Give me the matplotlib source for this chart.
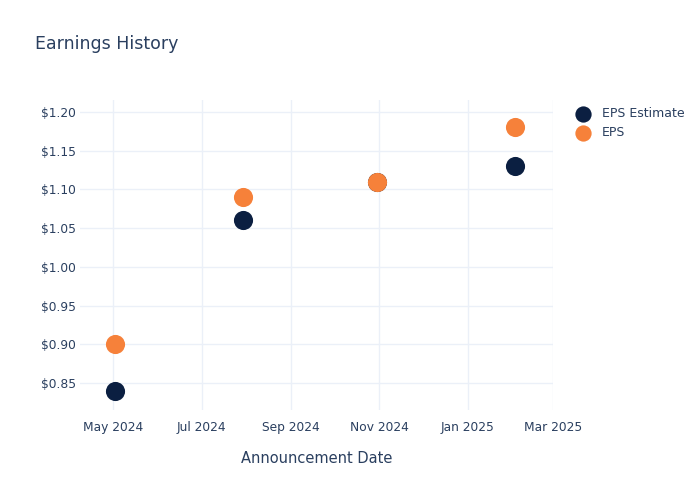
import matplotlib
matplotlib.use("Agg")
import matplotlib.pyplot as plt
import matplotlib.dates as mdates
from matplotlib.ticker import FuncFormatter, MultipleLocator
import numpy as np

# ── 数据 ──────────────────────────────────────────────
dates = np.array(["2024-05-02", "2024-07-30", "2024-10-30", "2025-02-03"], dtype="datetime64[D]")
eps_estimate = [0.84, 1.06, 1.11, 1.13]
eps_actual = [0.90, 1.09, 1.11, 1.18]

TEXT = "#2a3f5f"
GRID = "#ebf0f8"
NAVY = "#0b1f41"
ORANGE = "#f6813a"

plt.rcParams["font.family"] = ["DejaVu Sans"]

fig = plt.figure(figsize=(7, 5), dpi=100)
ax = fig.add_axes([80 / 700, 1 - 410 / 500, (553 - 80) / 700, (410 - 100) / 500])

ax.scatter(dates, eps_estimate, s=190, color=NAVY, label="EPS Estimate", zorder=3, linewidths=0)
ax.scatter(dates, eps_actual, s=190, color=ORANGE, label="EPS", zorder=4, linewidths=0)

ax.set_xlim(np.datetime64("2024-04-08"), np.datetime64("2025-03-01"))
ax.set_ylim(0.815, 1.2155)

ax.xaxis.set_major_locator(mdates.MonthLocator(bymonth=[1, 3, 5, 7, 9, 11]))
ax.xaxis.set_major_formatter(mdates.DateFormatter("%b %Y"))
ax.yaxis.set_major_locator(MultipleLocator(0.05))
ax.yaxis.set_major_formatter(FuncFormatter(lambda v, _: f"${v:.2f}"))

ax.grid(True, color=GRID, linewidth=1)
ax.set_axisbelow(True)
for s in ax.spines.values():
    s.set_visible(False)
ax.tick_params(axis="both", length=0, colors=TEXT, labelsize=8.8)
ax.tick_params(axis="x", pad=8)
ax.tick_params(axis="y", pad=3)

ax.set_xlabel("Announcement Date", fontsize=10.5, color=TEXT, labelpad=12)

fig.text(35 / 700, 1 - 44 / 500, "Earnings History", fontsize=12.5, color=TEXT, va="center", ha="left")

leg = ax.legend(loc="upper left", bbox_to_anchor=(1.013, 1.013), frameon=False,
                fontsize=9, handletextpad=0.5, labelspacing=0.5, markerscale=0.85)
for t in leg.get_texts():
    t.set_color(TEXT)

fig.savefig("out.png", dpi=100)
